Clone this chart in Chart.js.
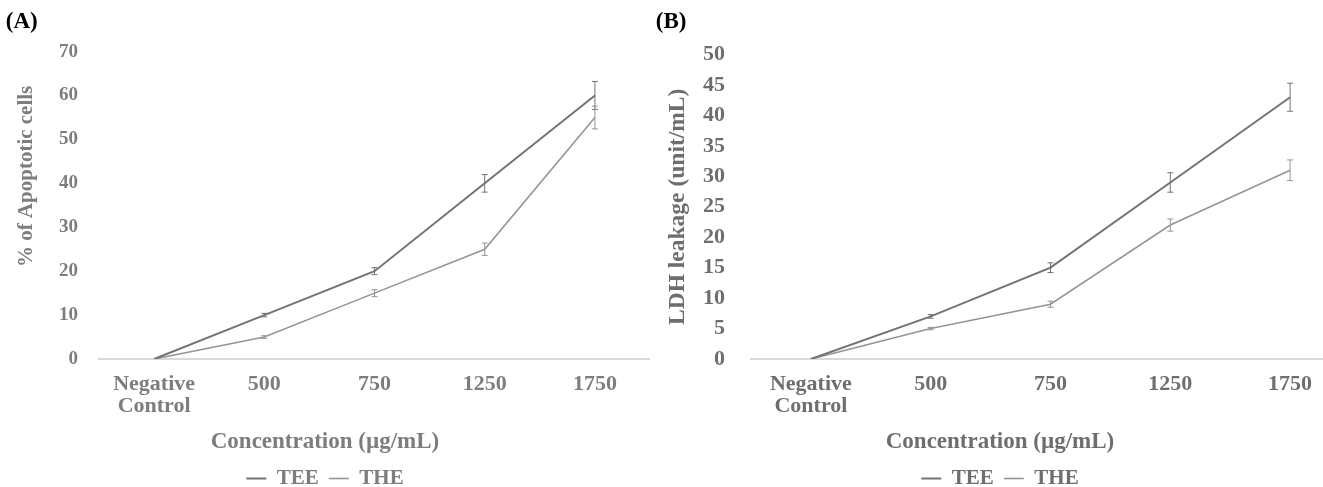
<!DOCTYPE html>
<html>
<head>
<meta charset="utf-8">
<script src="https://cdn.jsdelivr.net/npm/chart.js@4.4.1/dist/chart.umd.min.js"></script>
<style>
  html, body { margin: 0; padding: 0; background: #fff; overflow: hidden; }
  #wrapA { position: absolute; left: 0; top: 0; width: 650px; height: 487px; }
  #wrapB { position: absolute; left: 650px; top: 0; width: 700px; height: 487px; }
</style>
</head>
<body>
<div id="wrapA"><canvas id="chartA"></canvas></div>
<div id="wrapB"><canvas id="chartB"></canvas></div>
<script>
// concentrations on the x axis (same for both panels)
const categories = [["Negative", "Control"], "500", "750", "1250", "1750"];
const seriesNames = ["TEE", "THE"];

// (A) % of apoptotic cells
const apoptosisTEE = [0, 10, 20, 40, 60];
const apoptosisTHE = [0, 5, 15, 25, 55];
const apoptosisTEEErr = [0, 0.4, 0.8, 2, 3.2];
const apoptosisTHEErr = [0, 0.3, 0.8, 1.4, 2.6];
const apoptosisTicks = { max: 70, step: 10 };

// (B) LDH leakage
const ldhTEE = [0, 7, 15, 29, 43];
const ldhTHE = [0, 5, 9, 22, 31];
const ldhTEEErr = [0, 0.3, 0.8, 1.6, 2.3];
const ldhTHEErr = [0, 0.2, 0.5, 1, 1.7];
const ldhTicks = { max: 50, step: 5 };

const serif = "'Liberation Serif', 'Times New Roman', serif";

// draws the +/- error bars using the y scale
const errorBars = {
  id: "errorBars",
  afterDatasetsDraw(chart) {
    const ctx = chart.ctx;
    const yScale = chart.scales.y;
    chart.data.datasets.forEach((ds, i) => {
      if (!ds.errors) return;
      const meta = chart.getDatasetMeta(i);
      ctx.save();
      ctx.strokeStyle = ds.borderColor;
      ctx.lineWidth = 1;
      meta.data.forEach((pt, j) => {
        const e = ds.errors[j];
        if (!e) return;
        const top = yScale.getPixelForValue(ds.data[j] + e);
        const bot = yScale.getPixelForValue(ds.data[j] - e);
        ctx.beginPath();
        ctx.moveTo(pt.x, top); ctx.lineTo(pt.x, bot);
        ctx.moveTo(pt.x - 3, top); ctx.lineTo(pt.x + 3, top);
        ctx.moveTo(pt.x - 3, bot); ctx.lineTo(pt.x + 3, bot);
        ctx.stroke();
      });
      ctx.restore();
    });
  }
};

function makeChart(id, cfg) {
  return new Chart(document.getElementById(id), {
    type: "line",
    data: {
      labels: categories,
      datasets: [
        {
          label: seriesNames[0],
          data: cfg.tee,
          errors: cfg.teeErr,
          borderColor: "#737373",
          backgroundColor: "#737373",
          borderWidth: 2,
          pointRadius: 0,
          tension: 0,
        },
        {
          label: seriesNames[1],
          data: cfg.the,
          errors: cfg.theErr,
          borderColor: "#959595",
          backgroundColor: "#959595",
          borderWidth: 1.6,
          pointRadius: 0,
          tension: 0,
        },
      ],
    },
    options: {
      responsive: true,
      maintainAspectRatio: false,
      animation: false,
      layout: { padding: { left: 0, right: 0, top: 0, bottom: -12 } },
      scales: {
        x: {
          offset: true,
          grid: { display: false, drawTicks: false, offset: true },
          border: { display: true, color: "#d9d9d9", width: 2 },
          ticks: {
            color: cfg.textColor,
            padding: 14,
            maxRotation: 0,
            font: { family: serif, size: 22, weight: "bold", lineHeight: 1.0 },
          },
        },
        y: {
          min: 0,
          max: cfg.ticks.max,
          grid: { display: false, drawTicks: false },
          border: { display: false },
          ticks: {
            stepSize: cfg.ticks.step,
            autoSkip: false,
            color: cfg.textColor,
            padding: cfg.tickPad,
            font: { family: serif, size: cfg.yTickSize, weight: "bold" },
          },
          title: {
            display: true,
            text: cfg.yTitle,
            color: cfg.textColor,
            padding: { top: 14, bottom: 0 },
            font: { family: serif, size: cfg.yTitleSize, weight: "bold", lineHeight: 1.2 },
          },
          afterFit(scale) { scale.width = cfg.axisWidth; },
        },
      },
      plugins: {
        title: {
          display: true,
          text: cfg.letter,
          align: "start",
          color: "#000",
          padding: { top: 8, bottom: cfg.titleGap },
          font: { family: serif, size: 23, weight: "bold" },
        },
        subtitle: {
          display: true,
          position: "bottom",
          weight: 500,
          text: "Concentration (µg/mL)",
          color: cfg.textColor,
          padding: { top: 0, bottom: 4 },
          font: { family: serif, size: 23, weight: "bold", lineHeight: 1.0 },
        },
        legend: {
          position: "bottom",
          labels: {
            usePointStyle: true,
            pointStyle: "line",
            pointStyleWidth: 20,
            color: cfg.textColor,
            padding: 10,
            font: { family: serif, size: 21, weight: "bold" },
          },
        },
        tooltip: { enabled: false },
      },
    },
    plugins: [errorBars],
  });
}

makeChart("chartA", {
  letter: " (A)",
  yTitle: "           % of Apoptotic cells",
  tee: apoptosisTEE, the: apoptosisTHE,
  teeErr: apoptosisTEEErr, theErr: apoptosisTHEErr,
  ticks: apoptosisTicks,
  textColor: "#7d7d7d",
  yTickSize: 19, yTitleSize: 21,
  tickPad: 21, axisWidth: 99, titleGap: 16,
});

makeChart("chartB", {
  letter: " (B)",
  yTitle: "LDH leakage (unit/mL)",
  tee: ldhTEE, the: ldhTHE,
  teeErr: ldhTEEErr, theErr: ldhTHEErr,
  ticks: ldhTicks,
  textColor: "#6e6e6e",
  yTickSize: 22, yTitleSize: 23.5,
  tickPad: 26, axisWidth: 101, titleGap: 19,
});
</script>
</body>
</html>
